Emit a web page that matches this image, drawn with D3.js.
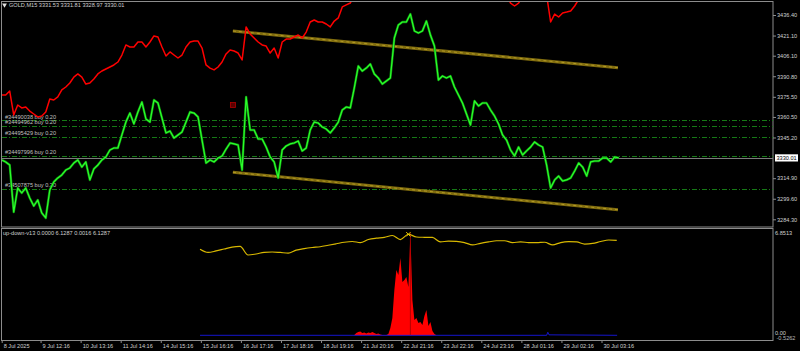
<!DOCTYPE html>
<html>
<head>
<meta charset="utf-8">
<script src="https://cdn.jsdelivr.net/npm/d3@7"></script>
<style>
  html, body { margin: 0; padding: 0; background: #000; }
  svg { display: block; }
  text { font-family: "Liberation Sans", Arial, sans-serif; font-size: 5.6px; }
</style>
</head>
<body>
<svg id="chart" width="800" height="351"></svg>
<script>
// GOLD M15, one value every 10 bars
const barStep = 10;
const greenClose = [
  3328.5, 3327.0, 3324.7, 3289.7, 3307.6, 3303.9, 3307.6, 3300.2, 3294.2, 3298.7,
  3289.0, 3285.3, 3306.1, 3312.1, 3315.1, 3317.3, 3321.0, 3322.5, 3326.2, 3328.5,
  3323.2, 3327.0, 3313.6, 3321.8, 3324.7, 3328.5, 3330.7, 3335.9, 3337.4, 3337.4,
  3347.1, 3356.7, 3363.4, 3355.3, 3364.2, 3371.6, 3359.0, 3356.7, 3373.1, 3370.9,
  3359.7, 3348.6, 3350.0, 3344.8, 3347.1, 3349.3, 3356.7, 3364.2, 3363.4, 3360.5,
  3343.3, 3326.2, 3328.5, 3327.0, 3329.9, 3331.4, 3336.6, 3341.1, 3340.4, 3339.6,
  3321.0, 3375.4, 3350.8, 3350.8, 3344.1, 3344.1, 3338.1, 3330.7, 3327.0, 3315.1,
  3335.9, 3338.9, 3340.4, 3341.1, 3342.6, 3335.2, 3337.4, 3350.8, 3356.7, 3356.0,
  3353.0, 3351.5, 3348.6, 3352.3, 3356.7, 3365.7, 3367.9, 3367.2, 3382.1, 3398.4,
  3394.7, 3396.9, 3399.9, 3392.5, 3389.5, 3385.0, 3387.3, 3389.5, 3419.3, 3429.0,
  3431.2, 3431.2, 3437.1, 3424.5, 3423.0, 3424.5, 3431.9, 3421.5, 3413.3, 3388.0,
  3391.0, 3389.5, 3391.0, 3382.8, 3376.8, 3370.9, 3362.7, 3354.5, 3372.4, 3368.7,
  3370.9, 3370.9, 3365.7, 3361.2, 3355.3, 3347.1, 3343.3, 3335.9, 3331.4, 3338.1,
  3332.2, 3335.2, 3338.1, 3341.9, 3339.6, 3338.1, 3324.7, 3307.6, 3313.6, 3316.5,
  3312.8, 3313.6, 3315.1, 3320.3, 3326.2, 3323.2, 3316.5, 3327.0, 3327.7, 3327.7,
  3329.9, 3329.9, 3327.0, 3330.7, 3330.0
];
// overlay series, null where it runs above the window
const redClose = [
  3376.8, 3376.8, 3379.8, 3362.0, 3369.4, 3367.2, 3367.9, 3364.9, 3362.7, 3360.5,
  3361.2, 3364.2, 3373.9, 3373.1, 3375.4, 3380.6, 3382.8, 3385.8, 3390.2, 3392.5,
  3390.2, 3385.0, 3385.8, 3388.8, 3392.5, 3394.7, 3396.2, 3397.7, 3399.2, 3401.4,
  3406.6, 3414.1, 3412.6, 3412.6, 3416.3, 3416.3, 3412.6, 3416.3, 3420.8, 3420.0,
  3412.6, 3405.9, 3408.9, 3406.6, 3404.4, 3406.6, 3412.6, 3416.3, 3417.0, 3417.0,
  3411.8, 3399.2, 3396.9, 3395.5, 3397.7, 3401.4, 3407.4, 3410.3, 3409.6, 3408.1,
  3402.9, 3427.5, 3422.3, 3419.3, 3416.3, 3414.1, 3413.3, 3408.1, 3411.8, 3404.4,
  3416.3, 3418.5, 3418.5, 3420.0, 3421.5, 3419.3, 3423.7, 3431.2, 3432.7, 3431.2,
  3431.2, 3429.7, 3427.5, 3431.9, 3434.2, 3442.4, 3443.9, 3445.3, 3451.3, null,
  null, null, null, null, null, null, null, null, null, null,
  null, null, null, null, null, null, null, null, null, null,
  null, null, null, null, null, null, null, null, null, null,
  null, null, null, null, null, null, 3451.0, 3445.3, 3443.1, 3445.3,
  3449.8, null, null, null, null, null, 3451.3, 3431.2, 3437.1, 3434.9,
  3437.9, 3438.6, 3439.4, 3443.1, 3448.0, null, null, null, null, null,
  null, null, null, null, null
];

const priceTicks = [3436.40, 3421.10, 3406.10, 3390.80, 3375.50, 3360.50, 3345.20, 3314.90, 3299.60, 3284.30];
const currentPrice = 3330.01;
const headerText = 'GOLD,M15  3331.53 3331.81 3328.97 3330.01';

const timeTickBars = [0, 97, 197, 297, 397, 497, 597, 697, 797, 897, 997, 1097, 1197, 1297, 1397, 1497];
const timeTickLabels = ['8 Jul 2025', '9 Jul 12:16', '10 Jul 13:16', '11 Jul 14:16', '14 Jul 15:16', '15 Jul 16:16',
  '16 Jul 17:16', '17 Jul 18:16', '18 Jul 19:16', '21 Jul 20:16', '22 Jul 21:16', '23 Jul 22:16',
  '24 Jul 23:16', '28 Jul 01:16', '29 Jul 02:16', '30 Jul 03:16'];

const orderTickets = ['#34490038', '#34494962', '#34495429', '#34497996', '#34507875'];
const orderLots = [0.20, 0.20, 0.20, 0.20, 0.20];
const orderPrices = [3358.2, 3354.0, 3345.9, 3331.7, 3307.1];

// channel trendlines: [bar, price] anchors
const channelBars = [577, 1538];
const channelUpper = [3424.5, 3397.2];
const channelLower = [3319.3, 3291.4];
const markerBar = 577;
const markerPrice = 3369.4;

// up-down-v13 sub window
const subLabel = 'up-down-v13 0.0000 6.1287 0.0016 6.1287';
const subTicks = [6.8513, 0];
const indStartBar = 495;
const indStep = 20;
const yellowValues = [
  5.72, 5.51, 5.61, 5.74, 5.87, 5.91, 5.34, 5.41, 5.52, 5.54,
  5.51, 5.47, 5.67, 5.77, 5.84, 5.89, 5.99, 6.09, 6.19, 6.24,
  6.17, 6.37, 6.46, 6.51, 6.64, 6.37, 6.72, 6.54, 6.52, 6.51,
  6.21, 6.27, 6.25, 6.17, 6.01, 6.12, 6.21, 6.29, 6.29, 6.17,
  6.21, 6.17, 6.16, 6.19, 6.01, 6.17, 6.23, 6.21, 6.07, 6.11,
  6.24, 6.34, 6.32
];
const peakIndex = 26;
const histStartBar = 880;
const histStep = 5;
const histValues = [
  0.02, 0.15, 0.22, 0.25, 0.15, 0.19, 0.12, 0.19, 0.15, 0.22,
  0.15, 0.09, 0.12, 0.05, 0.02, 0.02, 0.02, 0.09, 0.49, 1.15,
  3.01, 4.34, 4.01, 5.14, 3.55, 3.68, 3.88, 3.21, 6.80, 2.35,
  1.02, 1.15, 0.82, 0.88, 0.69, 1.28, 1.68, 0.62, 0.88, 0.29,
  0.09, 0.00
];
const blueBars = [495, 1360, 1363, 1366, 1536];
const blueValues = [0, 0, 0.2, 0.03, 0];

const drawChart = () => {
  const svg = d3.select('#chart');
  const left = 2, right = 773, mainTop = 2, mainBottom = 227, subTop = 229, subBottom = 341;
  const textColor = '#d0d0d0';

  const xScale = d3.scaleLinear().domain([0, 1925]).range([1.7, right]);
  const yMain = d3.scaleLinear().domain([3284.3, 3436.4]).range([219.3, 15]);
  const ySub = d3.scaleLinear().domain([0, 6.8513]).range([335.3, 232.3]);

  svg.append('rect').attr('width', 800).attr('height', 351).attr('fill', '#000');

  const defs = svg.append('defs');
  defs.append('clipPath').attr('id', 'clip-main').append('rect')
    .attr('x', left).attr('y', mainTop).attr('width', right - left).attr('height', mainBottom - mainTop);
  defs.append('clipPath').attr('id', 'clip-sub').append('rect')
    .attr('x', left).attr('y', subTop).attr('width', right - left).attr('height', subBottom - subTop);

  // window frames
  const frame = svg.append('g').attr('stroke', '#8c8c8c').attr('fill', 'none');
  frame.append('rect').attr('x', 1.5).attr('y', 1.5).attr('width', right - 1.5).attr('height', mainBottom - 1.5);
  frame.append('rect').attr('x', 1.5).attr('y', subTop - 0.5).attr('width', right - 1.5).attr('height', subBottom - subTop);

  const main = svg.append('g').attr('clip-path', 'url(#clip-main)');

  // order lines + labels
  orderPrices.forEach((p, i) => {
    main.append('line')
      .attr('x1', left).attr('x2', right)
      .attr('y1', Math.round(yMain(p)) + 0.5).attr('y2', Math.round(yMain(p)) + 0.5)
      .attr('stroke', '#167a16')
      .attr('stroke-dasharray', '5,2,1,2');
    main.append('text')
      .attr('x', 5).attr('y', yMain(p) - 1.4)
      .attr('fill', '#c0c0c0')
      .text(`${orderTickets[i]} buy ${orderLots[i].toFixed(2)}`);
  });

  // bid line
  main.append('line')
    .attr('x1', left).attr('x2', right)
    .attr('y1', Math.round(yMain(currentPrice)) + 0.5).attr('y2', Math.round(yMain(currentPrice)) + 0.5)
    .attr('stroke', '#7c7c7c');

  // channel
  [channelUpper, channelLower].forEach(prices => {
    main.append('line')
      .attr('x1', xScale(channelBars[0])).attr('y1', yMain(prices[0]))
      .attr('x2', xScale(channelBars[1])).attr('y2', yMain(prices[1]))
      .attr('stroke', '#806c0e')
      .attr('stroke-width', 3);
    main.append('line')
      .attr('x1', xScale(channelBars[0])).attr('y1', yMain(prices[0]))
      .attr('x2', xScale(channelBars[1])).attr('y2', yMain(prices[1]))
      .attr('stroke', '#b39a26')
      .attr('stroke-width', 1)
      .attr('stroke-dasharray', '3,3');
  });

  const priceLine = d3.line()
    .defined(d => d !== null)
    .x((d, i) => xScale(i * barStep))
    .y(d => yMain(d));

  main.append('path')
    .attr('d', priceLine(redClose))
    .attr('fill', 'none')
    .attr('stroke', '#ff0000')
    .attr('stroke-width', 1.5)
    .attr('stroke-linejoin', 'round');

  main.append('path')
    .attr('d', priceLine(greenClose))
    .attr('fill', 'none')
    .attr('stroke', '#0c8a0c')
    .attr('stroke-width', 2.4)
    .attr('stroke-linejoin', 'round');
  main.append('path')
    .attr('d', priceLine(greenClose))
    .attr('fill', 'none')
    .attr('stroke', '#2cff2c')
    .attr('stroke-width', 1.2)
    .attr('stroke-linejoin', 'round');

  main.append('rect')
    .attr('x', xScale(markerBar) - 2.5).attr('y', yMain(markerPrice) - 2.5)
    .attr('width', 5).attr('height', 5)
    .attr('fill', '#5a0000').attr('stroke', '#b00000').attr('stroke-width', 0.8);

  // header
  svg.append('path')
    .attr('d', d3.symbol(d3.symbolTriangle, 10)())
    .attr('transform', 'translate(4.5,5) rotate(180)')
    .attr('fill', '#e0e0e0');
  svg.append('text').attr('x', 9).attr('y', 7).attr('fill', textColor).text(headerText);

  // price axis
  const priceAxis = svg.append('g')
    .attr('transform', `translate(${right},0)`)
    .call(d3.axisRight(yMain).tickValues(priceTicks).tickSize(3).tickPadding(1).tickFormat(d3.format('.2f')));
  priceAxis.select('.domain').remove();
  priceAxis.selectAll('line').attr('stroke', '#8c8c8c');
  priceAxis.selectAll('text').attr('fill', textColor).attr('font-size', null).attr('font-family', null);

  const bidBox = svg.append('g').attr('transform', `translate(${right + 2},${yMain(currentPrice)})`);
  bidBox.append('rect').attr('x', 0).attr('y', -3.6).attr('width', 23).attr('height', 7.2).attr('fill', '#ffffff');
  bidBox.append('text').attr('x', 1.5).attr('dy', '0.35em').attr('fill', '#000000').text(currentPrice.toFixed(2));

  // sub window
  const sub = svg.append('g').attr('clip-path', 'url(#clip-sub)');

  const hist = d3.area()
    .x((d, i) => xScale(histStartBar + i * histStep))
    .y0(ySub(0))
    .y1(d => ySub(d));
  sub.append('path').attr('d', hist(histValues)).attr('fill', '#ff0000');
  sub.append('line')
    .attr('x1', xScale(histStartBar + 28 * histStep)).attr('x2', xScale(histStartBar + 28 * histStep))
    .attr('y1', ySub(0)).attr('y2', ySub(histValues[28]))
    .attr('stroke', '#a00000').attr('stroke-width', 0.8);

  const blueLine = d3.line().x((d, i) => xScale(blueBars[i])).y(d => ySub(d));
  sub.append('path').attr('d', blueLine(blueValues))
    .attr('fill', 'none').attr('stroke', '#1a1aff').attr('stroke-width', 0.8);

  const yellowLine = d3.line()
    .x((d, i) => xScale(indStartBar + i * indStep))
    .y(d => ySub(d))
    .curve(d3.curveMonotoneX);
  sub.append('path').attr('d', yellowLine(yellowValues))
    .attr('fill', 'none').attr('stroke', '#d8b800').attr('stroke-width', 1.2);

  sub.append('path')
    .attr('d', d3.symbol(d3.symbolTimes, 14)())
    .attr('transform', `translate(${xScale(indStartBar + peakIndex * indStep)},${ySub(yellowValues[peakIndex])})`)
    .attr('fill', 'none').attr('stroke', '#f0d000').attr('stroke-width', 1);

  svg.append('text').attr('x', 3).attr('y', 235).attr('fill', textColor).text(subLabel);

  const subAxis = svg.append('g')
    .attr('transform', `translate(${right},0)`)
    .call(d3.axisRight(ySub).tickValues(subTicks).tickSize(0).tickPadding(2)
      .tickFormat(d => d === 0 ? '0.00' : d.toFixed(4)));
  subAxis.select('.domain').remove();
  subAxis.selectAll('text').attr('fill', textColor).attr('font-size', null).attr('font-family', null)
    .attr('dy', (d) => d === 0 ? '-0.15em' : '0.32em');
  svg.append('text')
    .attr('x', right + 3.5).attr('y', ySub(0) + 2.6).attr('dy', '0.35em')
    .attr('fill', '#b8b8b8')
    .text('-0.5262');

  // time axis
  const timeAxis = svg.append('g')
    .attr('transform', `translate(0,${subBottom})`)
    .call(d3.axisBottom(xScale).tickValues(timeTickBars).tickSize(2).tickPadding(1)
      .tickFormat((d, i) => timeTickLabels[i]));
  timeAxis.select('.domain').remove();
  timeAxis.selectAll('line').attr('stroke', '#8c8c8c');
  timeAxis.selectAll('text')
    .attr('text-anchor', 'start')
    .attr('x', 1.5)
    .attr('fill', textColor)
    .attr('font-size', null)
    .attr('font-family', null);
};

drawChart();
</script>
</body>
</html>
